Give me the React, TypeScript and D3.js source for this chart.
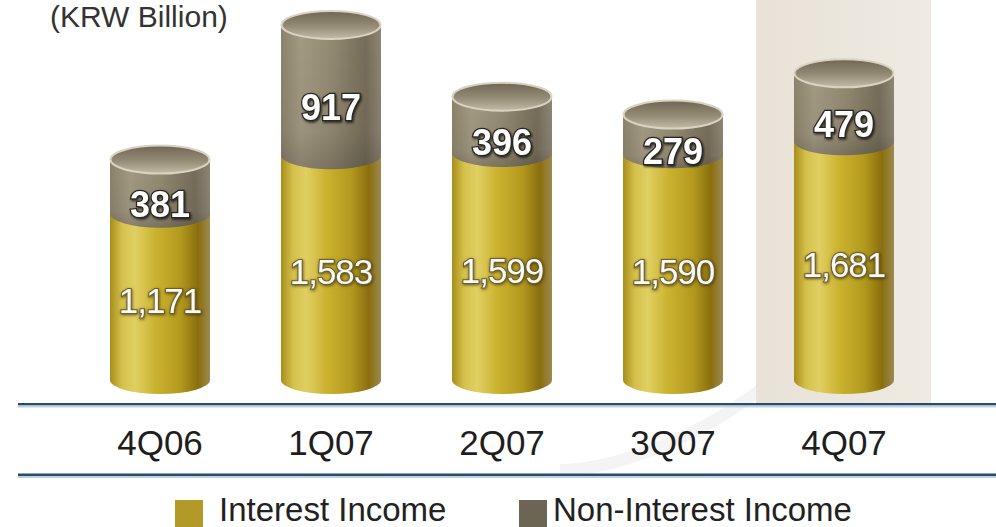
import React from "react";
import * as d3 from "d3";

const categories = ["4Q06", "1Q07", "2Q07", "3Q07", "4Q07"];
const interestIncome = [1171, 1583, 1599, 1590, 1681];
const nonInterestIncome = [381, 917, 396, 279, 479];
const seriesNames = ["Interest Income", "Non-Interest Income"];
const unitLabel = "(KRW Billion)";
const highlighted = "4Q07";

const W = 996;
const H = 527;
const RX = 50;
const RY = 14;
const FONT = "'Liberation Sans', Arial, Helvetica, sans-serif";

export default function App() {
  const x = d3.scalePoint<string>().domain(categories).range([160, 844]);
  const y = d3.scaleLinear().domain([0, 2500]).range([380, 25]);
  const fmt = d3.format(",");

  const cyl = (cx: number, yTop: number, yBot: number) => {
    const l = cx - RX;
    const r = cx + RX;
    return `M${l},${yTop} L${l},${yBot} A${RX},${RY} 0 0 0 ${r},${yBot} L${r},${yTop} Z`;
  };

  const hx = x(highlighted)!;

  return (
    <svg
      width={W}
      height={H}
      style={{ position: "absolute", left: 0, top: 0, background: "#ffffff" }}
      fontFamily={FONT}
    >
      <defs>
        <linearGradient id="gold" x1="0" x2="1" y1="0" y2="0">
          <stop offset="0" stopColor="#a88d1a" />
          <stop offset="0.12" stopColor="#d4c14c" />
          <stop offset="0.25" stopColor="#e0cf62" />
          <stop offset="0.45" stopColor="#cbb230" />
          <stop offset="0.7" stopColor="#b39a1e" />
          <stop offset="0.88" stopColor="#8a6e0e" />
          <stop offset="1" stopColor="#9c8a50" />
        </linearGradient>
        <linearGradient id="dark" x1="0" x2="1" y1="0" y2="0">
          <stop offset="0" stopColor="#8c836c" />
          <stop offset="0.2" stopColor="#a39a83" />
          <stop offset="0.5" stopColor="#938a72" />
          <stop offset="0.85" stopColor="#766d5a" />
          <stop offset="1" stopColor="#8e8674" />
        </linearGradient>
        <linearGradient id="darkShade" x1="0" x2="0" y1="0" y2="1">
          <stop offset="0" stopColor="#000" stopOpacity="0" />
          <stop offset="0.75" stopColor="#000" stopOpacity="0.05" />
          <stop offset="1" stopColor="#000" stopOpacity="0.18" />
        </linearGradient>
        <linearGradient id="inner" x1="0" x2="0" y1="0" y2="1">
          <stop offset="0" stopColor="#6f6654" />
          <stop offset="0.55" stopColor="#958c77" />
          <stop offset="1" stopColor="#c4bca8" />
        </linearGradient>
        <linearGradient id="band" x1="0" x2="1" y1="0" y2="0">
          <stop offset="0" stopColor="#e8e2d7" />
          <stop offset="0.6" stopColor="#ece7de" />
          <stop offset="1" stopColor="#efebe4" />
        </linearGradient>
        <filter id="txtShadow" x="-20%" y="-20%" width="140%" height="140%">
          <feDropShadow dx="1" dy="1.5" stdDeviation="1.2" floodColor="#000" floodOpacity="0.7" />
        </filter>
        <filter id="txtGlow" x="-20%" y="-20%" width="140%" height="140%">
          <feDropShadow dx="0.5" dy="1" stdDeviation="1.5" floodColor="#3a3010" floodOpacity="0.8" />
        </filter>
      </defs>

      {/* decorative background swoosh */}
      <path
        d={`M${820},0 C${900},120 ${930},260 ${760},390 C${680},450 ${600},470 ${560},470`}
        fill="none"
        stroke="#f4f4f4"
        strokeWidth={12}
      />

      {/* highlight band */}
      <rect x={hx - 88} y={0} width={175} height={404} fill="url(#band)" />

      {/* title */}
      <text x={50} y={27} fontSize={30} fill="#333">
        {unitLabel}
      </text>

      {categories.map((c, i) => {
        const cx = x(c)!;
        const yBase = y(0);
        const yMid = y(interestIncome[i]);
        const yTop = y(interestIncome[i] + nonInterestIncome[i]);
        const goldLabelY = (yMid + RY + yBase + RY) / 2 - 10;
        const darkLabelY = (yTop + RY + yMid + RY) / 2 + 3;
        return (
          <g key={c}>
            <path d={cyl(cx, yMid, yBase)} fill="url(#gold)" />
            <path d={cyl(cx, yTop, yMid)} fill="url(#dark)" />
            <path d={cyl(cx, yTop, yMid)} fill="url(#darkShade)" />
            <ellipse cx={cx} cy={yTop} rx={RX - 0.5} ry={RY} fill="url(#inner)" stroke="#d9d3c2" strokeWidth={2} />
            <text
              x={cx}
              y={darkLabelY}
              dy="0.36em"
              textAnchor="middle"
              fontSize={36}
              fontWeight="bold"
              fill="#ffffff"
              stroke="#2a2620"
              strokeWidth={2.5}
              paintOrder="stroke"
              filter="url(#txtShadow)"
            >
              {fmt(nonInterestIncome[i])}
            </text>
            <text
              x={cx}
              y={goldLabelY}
              dy="0.36em"
              textAnchor="middle"
              fontSize={35}
              fill="#fbfaf2"
              stroke="#6a5e34"
              strokeWidth={2}
              paintOrder="stroke"
              letterSpacing={-1}
              filter="url(#txtGlow)"
            >
              {fmt(interestIncome[i])}
            </text>
          </g>
        );
      })}

      {/* axis lines */}
      <rect x={18} y={403} width={W - 18} height={2.5} fill="#2d4a66" />
      <rect x={18} y={405.5} width={W - 18} height={2} fill="#b9d3e6" />
      <rect x={18} y={473.5} width={W - 18} height={2.5} fill="#2d4a66" />
      <rect x={18} y={476} width={W - 18} height={2} fill="#b9d3e6" />

      {categories.map((c) => (
        <text key={c} x={x(c)!} y={455} textAnchor="middle" fontSize={35} fill="#1e1e1e">
          {c}
        </text>
      ))}

      {/* legend */}
      <rect x={175} y={500} width={28} height={30} fill="#b39a28" />
      <text x={219} y={521} fontSize={33} fill="#222">
        {seriesNames[0]}
      </text>
      <rect x={519} y={500} width={28} height={30} fill="#6d6553" />
      <text x={553} y={521} fontSize={33} fill="#222">
        {seriesNames[1]}
      </text>
    </svg>
  );
}
